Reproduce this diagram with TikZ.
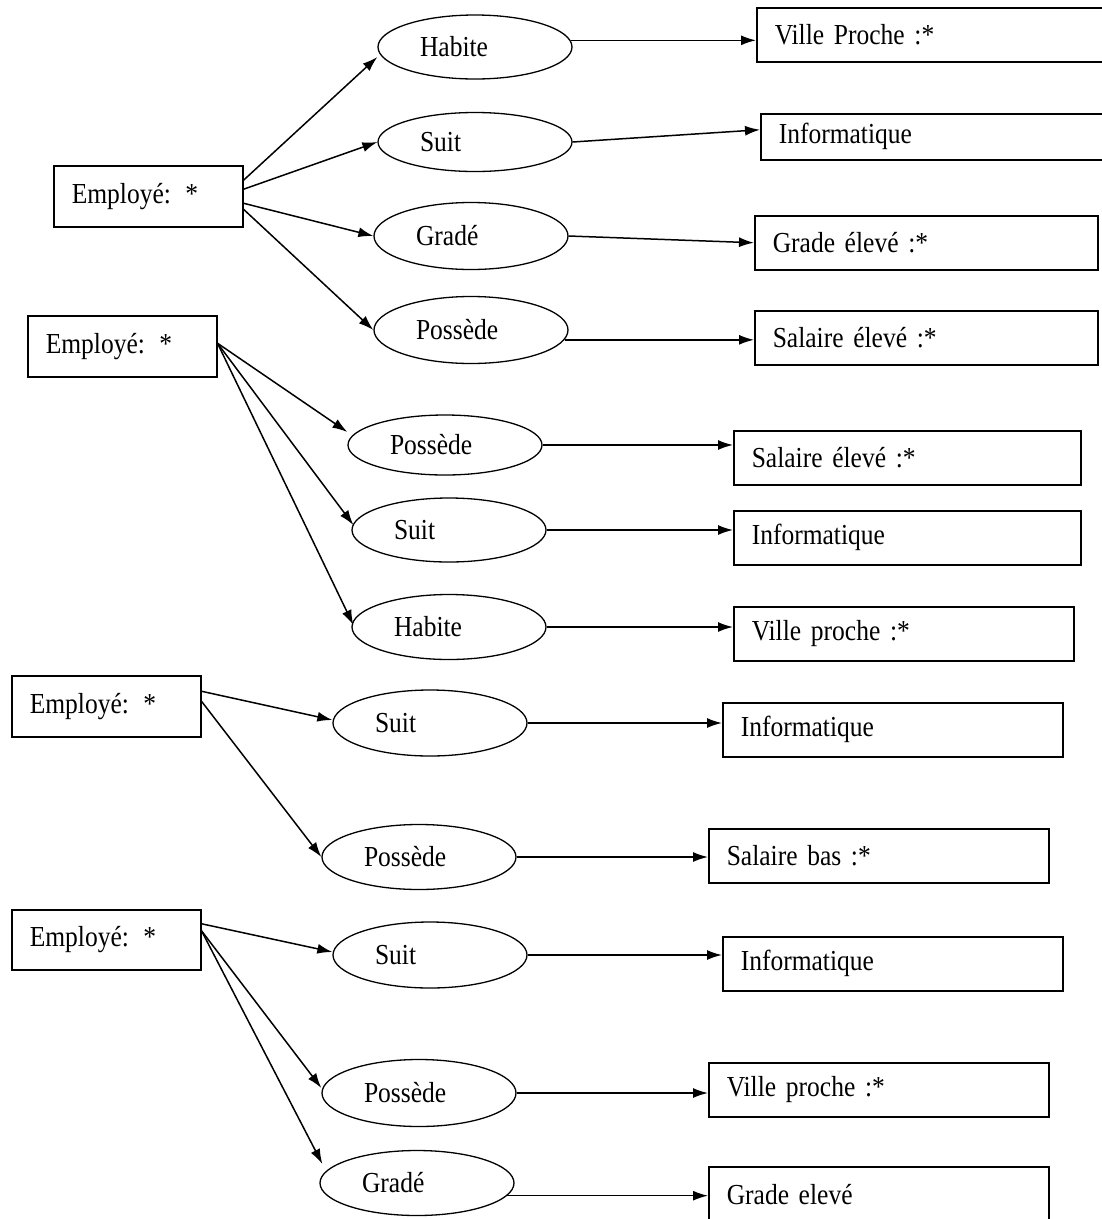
\documentclass[tikz,border=0pt]{standalone}
\usepackage{fontspec}
\setmainfont{Liberation Serif}[FakeStretch=0.88]
\usetikzlibrary{shapes.geometric,arrows.meta,calc}

\begin{document}
\begin{tikzpicture}[x=1pt, y=-1pt, font=\fontsize{29}{32}\selectfont,
  emp/.style={draw, line width=1.5pt, anchor=north west, inner xsep=18pt, inner ysep=0pt, text width=153pt, minimum height=61pt, align=left},
  rel/.style={draw, ellipse, line width=1.3pt, inner sep=0pt, text width=110pt, align=left, minimum width=194pt, minimum height=64pt},
  val/.style={draw, line width=1.5pt, anchor=north west, inner xsep=18pt, inner ysep=0pt, text width=#1, minimum height=54pt, align=left},
  arr/.style={-{Latex[length=15pt,width=10pt]}, line width=1.5pt}]
\useasboundingbox (0,0) rectangle (1102,1219);

% first employee
\node[emp] (e1) at (53,165) {Employé: *};
\node[rel] (h1) at (475,47) {Habite};
\node[rel, minimum height=59pt] (s1) at (475,142) {Suit};
\node[rel, minimum height=67pt] (g1) at (471,236) {Gradé};
\node[rel, minimum height=67pt] (p1) at (471,330) {Possède};
\node[val=312pt] (v1) at (756,7) {Ville Proche :*};
\node[val=310pt, minimum height=46pt] (i1) at (760,113) {Informatique};
\node[val=307pt] (ge1) at (754,215) {Grade élevé :*};
\node[val=307pt] (se1) at (754,310) {Salaire élevé :*};
\draw[arr] ($(e1.east)+(0,-16)$) -- ($(h1.west)+(0,10)$);
\draw[arr] ($(e1.east)+(0,-7)$) -- (s1.west);
\draw[arr] ($(e1.east)+(0,7)$) -- (g1.west);
\draw[arr] ($(e1.east)+(0,13)$) -- (p1.west);
\draw[arr] (h1.4) -- (h1.4 -| v1.west);
\draw[arr] (s1.east) -- ($(i1.west)+(0,-7)$);
\draw[arr] (g1.east) -- (ge1.west);
\draw[arr] (p1.354) -- (p1.354 -| se1.west);

% second employee
\node[emp] (e2) at (27,315) {Employé: *};
\node[rel, minimum height=60pt] (p2) at (445,445) {Possède};
\node[rel] (s2) at (449,530) {Suit};
\node[rel, minimum height=65pt] (h2) at (449,627) {Habite};
\node[val=311pt] (se2) at (733,430) {Salaire élevé :*};
\node[val=311pt] (i2) at (733,510) {Informatique};
\node[val=304pt] (v2) at (733,606) {Ville proche :*};
\draw[arr] ($(e2.east)+(0,-3)$) -- ($(p2.west)+(0,-13)$);
\draw[arr] ($(e2.east)+(0,-3)$) -- ($(s2.west)+(2,-5)$);
\draw[arr] ($(e2.east)+(0,-3)$) -- ($(h2.west)+(2,-2)$);
\draw[arr] (p2.east) -- (p2.east -| se2.west);
\draw[arr] (s2.east) -- (s2.east -| i2.west);
\draw[arr] (h2.east) -- (h2.east -| v2.west);

% third employee
\node[emp] (e3) at (11,675) {Employé: *};
\node[rel, minimum height=66pt] (s3) at (430,723) {Suit};
\node[rel, minimum height=65pt] (p3) at (419,857) {Possède};
\node[val=304pt] (i3) at (722,702) {Informatique};
\node[val=304pt] (sb3) at (708,828) {Salaire bas :*};
\draw[arr] ($(e3.east)+(0,-15)$) -- ($(s3.west)+(0,-3)$);
\draw[arr] ($(e3.east)+(0,-5)$) -- (p3.west);
\draw[arr] (s3.east) -- (s3.east -| i3.west);
\draw[arr] (p3.east) -- (p3.east -| sb3.west);

% fourth employee
\node[emp, minimum height=60pt] (e4) at (11,909) {Employé: *};
\node[rel, minimum height=66pt] (s4) at (430,955) {Suit};
\node[rel, minimum height=67pt] (p4) at (419,1093) {Possède};
\node[rel, minimum height=65pt] (g4) at (417,1183) {Gradé};
\node[val=304pt] (i4) at (722,936) {Informatique};
\node[val=304pt] (v4) at (708,1062) {Ville proche :*};
\node[val=304pt, minimum height=56pt] (ge4) at (708,1166) {Grade elevé};
\draw[arr] ($(e4.east)+(0,-16)$) -- ($(s4.west)+(0,-3)$);
\draw[arr] ($(e4.east)+(0,-9)$) -- ($(p4.west)+(0,-5)$);
\draw[arr] ($(e4.east)+(0,-9)$) -- ($(g4.west)+(3,-19)$);
\draw[arr] (s4.east) -- (s4.east -| i4.west);
\draw[arr] (p4.east) -- (p4.east -| v4.west);
\draw[arr] (g4.352) -- (g4.352 -| ge4.west);
\end{tikzpicture}
\end{document}
